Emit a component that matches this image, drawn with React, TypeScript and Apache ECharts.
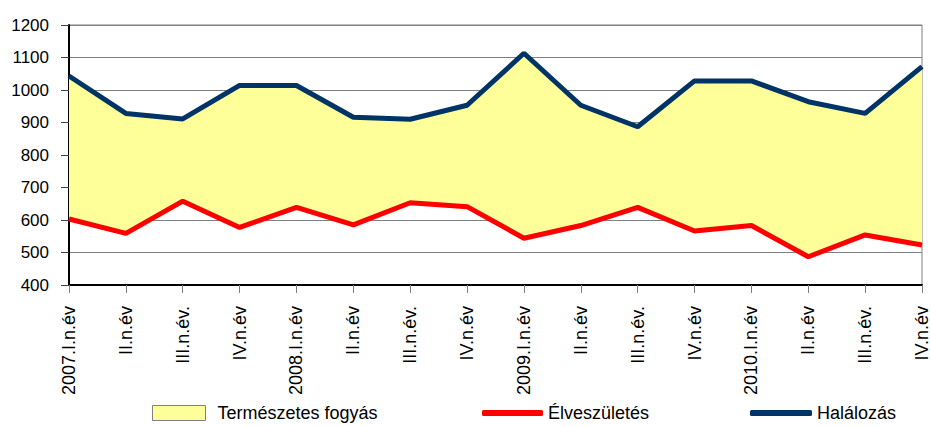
import React, { useEffect, useRef } from "react";
import * as echarts from "echarts";

const categories = [
  "2007.I.n.év", "II.n.év", "III.n.év.", "IV.n.év",
  "2008.I.n.év", "II.n.év", "III.n.év.", "IV.n.év",
  "2009.I.n.év", "II.n.év", "III.n.év.", "IV.n.év",
  "2010.I.n.év", "II.n.év", "III.n.év.", "IV.n.év",
];
const halalozas = [1043, 928, 911, 1014, 1014, 916, 910, 953, 1113, 953, 887, 1028, 1028, 964, 928, 1072];
const elveszuletes = [603, 559, 658, 577, 639, 585, 653, 641, 544, 583, 639, 566, 583, 487, 554, 523];
const yTicks = { min: 400, max: 1200, interval: 100 };

const fogyas = halalozas.map((h, i) => h - elveszuletes[i]);

const FONT = "'Liberation Sans', Arial, sans-serif";

export default function App() {
  const ref = useRef<HTMLDivElement>(null);
  useEffect(() => {
    if (!ref.current) return;
    const chart = echarts.init(ref.current, undefined, { renderer: "svg" });
    const legendText = { fontSize: 18, color: "#000", fontFamily: FONT, lineHeight: 18 };
    chart.setOption({
      animation: false,
      backgroundColor: "#ffffff",
      textStyle: { fontFamily: FONT },
      grid: {
        left: 69,
        right: 6,
        top: 25,
        bottom: 141,
        show: true,
        borderColor: "#808080",
        borderWidth: 1,
        backgroundColor: "#ffffff",
      },
      legend: [
        {
          data: [{ name: "Természetes fogyás", icon: "rect" }],
          left: 152,
          top: 404,
          padding: 0,
          itemWidth: 53,
          itemHeight: 15,
          itemStyle: { borderColor: "#808080", borderWidth: 1, color: "#FFFF99" },
          textStyle: { ...legendText, padding: [0, 0, 0, 7] },
          selectedMode: false,
        },
        {
          data: [{ name: "Élveszületés", icon: "roundRect" }],
          left: 482,
          top: 404,
          padding: 0,
          itemWidth: 61,
          itemHeight: 6,
          textStyle: legendText,
          selectedMode: false,
        },
        {
          data: [{ name: "Halálozás", icon: "roundRect" }],
          left: 750,
          top: 404,
          padding: 0,
          itemWidth: 62,
          itemHeight: 6,
          textStyle: legendText,
          selectedMode: false,
        },
      ],
      xAxis: {
        type: "category",
        data: categories,
        boundaryGap: false,
        axisLine: { lineStyle: { color: "#000", width: 2 } },
        axisTick: { show: true, length: 8, lineStyle: { color: "#808080", width: 1 }, alignWithLabel: true },
        axisLabel: {
          rotate: 90,
          interval: 0,
          margin: 21,
          fontSize: 18,
          color: "#000",
          fontFamily: FONT,
        },
        splitLine: { show: false },
      },
      yAxis: {
        type: "value",
        min: yTicks.min,
        max: yTicks.max,
        interval: yTicks.interval,
        axisLine: { show: true, lineStyle: { color: "#000", width: 2 } },
        axisTick: { show: true, length: 8, lineStyle: { color: "#404040", width: 1 } },
        axisLabel: {
          fontSize: 17,
          color: "#000",
          margin: 20,
          fontFamily: FONT,
          formatter: (v: number) => String(v),
        },
        splitLine: { show: true, lineStyle: { color: "#808080", width: 1 } },
      },
      series: [
        {
          name: "Élveszületés",
          type: "line",
          data: elveszuletes,
          stack: "fill",
          showSymbol: false,
          symbol: "none",
          lineStyle: { color: "#FF0000", width: 5 },
          itemStyle: { color: "#FF0000" },
          z: 3,
        },
        {
          name: "Természetes fogyás",
          type: "line",
          data: fogyas,
          stack: "fill",
          showSymbol: false,
          symbol: "none",
          lineStyle: { width: 0, opacity: 0 },
          areaStyle: { color: "#FFFF99", opacity: 1 },
          itemStyle: { color: "#FFFF99" },
          z: 1,
        },
        {
          name: "Halálozás",
          type: "line",
          data: halalozas,
          showSymbol: false,
          symbol: "none",
          lineStyle: { color: "#003366", width: 5 },
          itemStyle: { color: "#003366" },
          z: 4,
        },
      ],
    });
    return () => chart.dispose();
  }, []);
  return (
    <div
      ref={ref}
      style={{ position: "fixed", left: 0, top: 0, width: 931, height: 426 }}
    />
  );
}
